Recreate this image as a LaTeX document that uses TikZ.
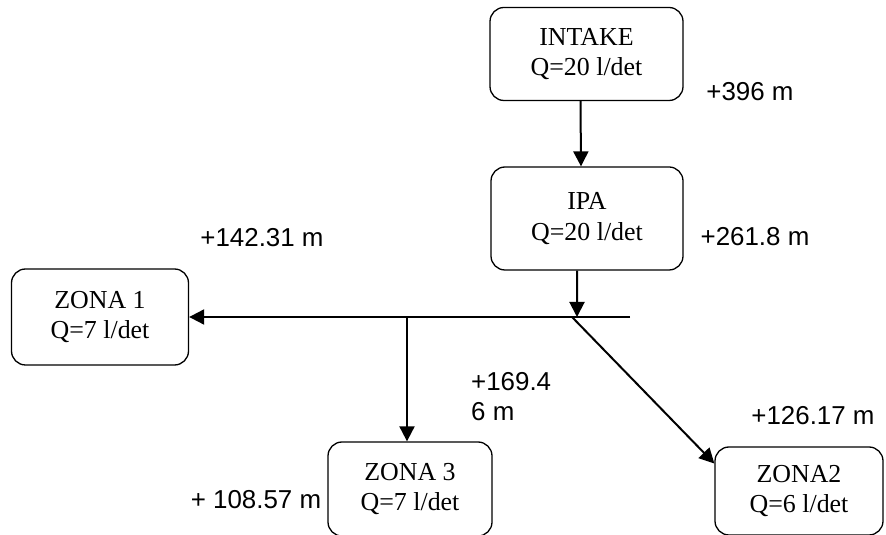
\documentclass[tikz,border=0pt]{standalone}
\usepackage{fontspec}
\setmainfont{Liberation Serif}
\newfontfamily\levelfont{Liberation Sans}
\usetikzlibrary{arrows.meta,shapes}

\begin{document}
\begin{tikzpicture}[>={Triangle[length=15bp,width=15bp]},line join=bevel,
  unit/.style={draw,rounded corners=14bp,line width=1.3bp,align=center,
    font=\fontsize{26}{31}\selectfont,inner sep=0pt},
  level/.style={font=\levelfont\fontsize{26}{30}\selectfont,inner sep=0pt},
  pipe/.style={line width=2bp}]
\useasboundingbox (0bp,0bp) rectangle (886bp,535bp);
%%
  % Node: INTAKE
  \node[unit,minimum width=193bp,minimum height=93bp] (intake) at (586.5bp,481bp) {INTAKE\\Q=20 l/det};
  % Node: IPA
  \node[unit,minimum width=192bp,minimum height=103bp] (ipa) at (587bp,316.5bp) {IPA\\Q=20 l/det};
  % Node: ZONA 1
  \node[unit,minimum width=177bp,minimum height=96bp] (zona1) at (100bp,218bp) {ZONA 1\\Q=7 l/det};
  % Node: ZONA 3
  \node[unit,minimum width=164bp,minimum height=94bp] (zona3) at (410bp,46bp) {ZONA 3\\Q=7 l/det};
  % Node: ZONA2
  \node[unit,minimum width=168bp,minimum height=88bp] (zona2) at (799bp,44bp) {ZONA2\\Q=6 l/det};
  % Pipe junctions
  \coordinate (hub) at (577bp,218bp);
  \coordinate (tee) at (407bp,218bp);
  \coordinate (fork) at (572bp,218bp);
  \coordinate (pipeend) at (630bp,218bp);
  % Edge: INTAKE -> IPA
  \draw [pipe,->] ([xshift=-6bp]intake.south) -- ([xshift=-6bp]ipa.north);
  % Edge: IPA -> main pipe
  \draw [pipe,->] ([xshift=-10bp]ipa.south) -- (hub);
  % Edge: main pipe -> ZONA 1
  \draw [pipe,->] (pipeend) -- (zona1.east);
  % Edge: main pipe -> ZONA 3
  \draw [pipe,->] (tee) -- (tee |- zona3.north);
  % Edge: main pipe -> ZONA2
  \draw [pipe,->] (fork) -- (zona2.162);
  % Elevations
  \node[level] (hintake) at (750bp,443bp) {+396 m};
  \node[level] (hipa) at (755bp,298bp) {+261.8 m};
  \node[level] (hzona1) at (262bp,297bp) {+142.31 m};
  \node[level,align=left,anchor=west] (hhub) at (471bp,138bp) {+169.4\\6 m};
  \node[level] (hzona2) at (813bp,119bp) {+126.17 m};
  \node[level] (hzona3) at (256bp,35bp) {+ 108.57 m};
%
\end{tikzpicture}
\end{document}
